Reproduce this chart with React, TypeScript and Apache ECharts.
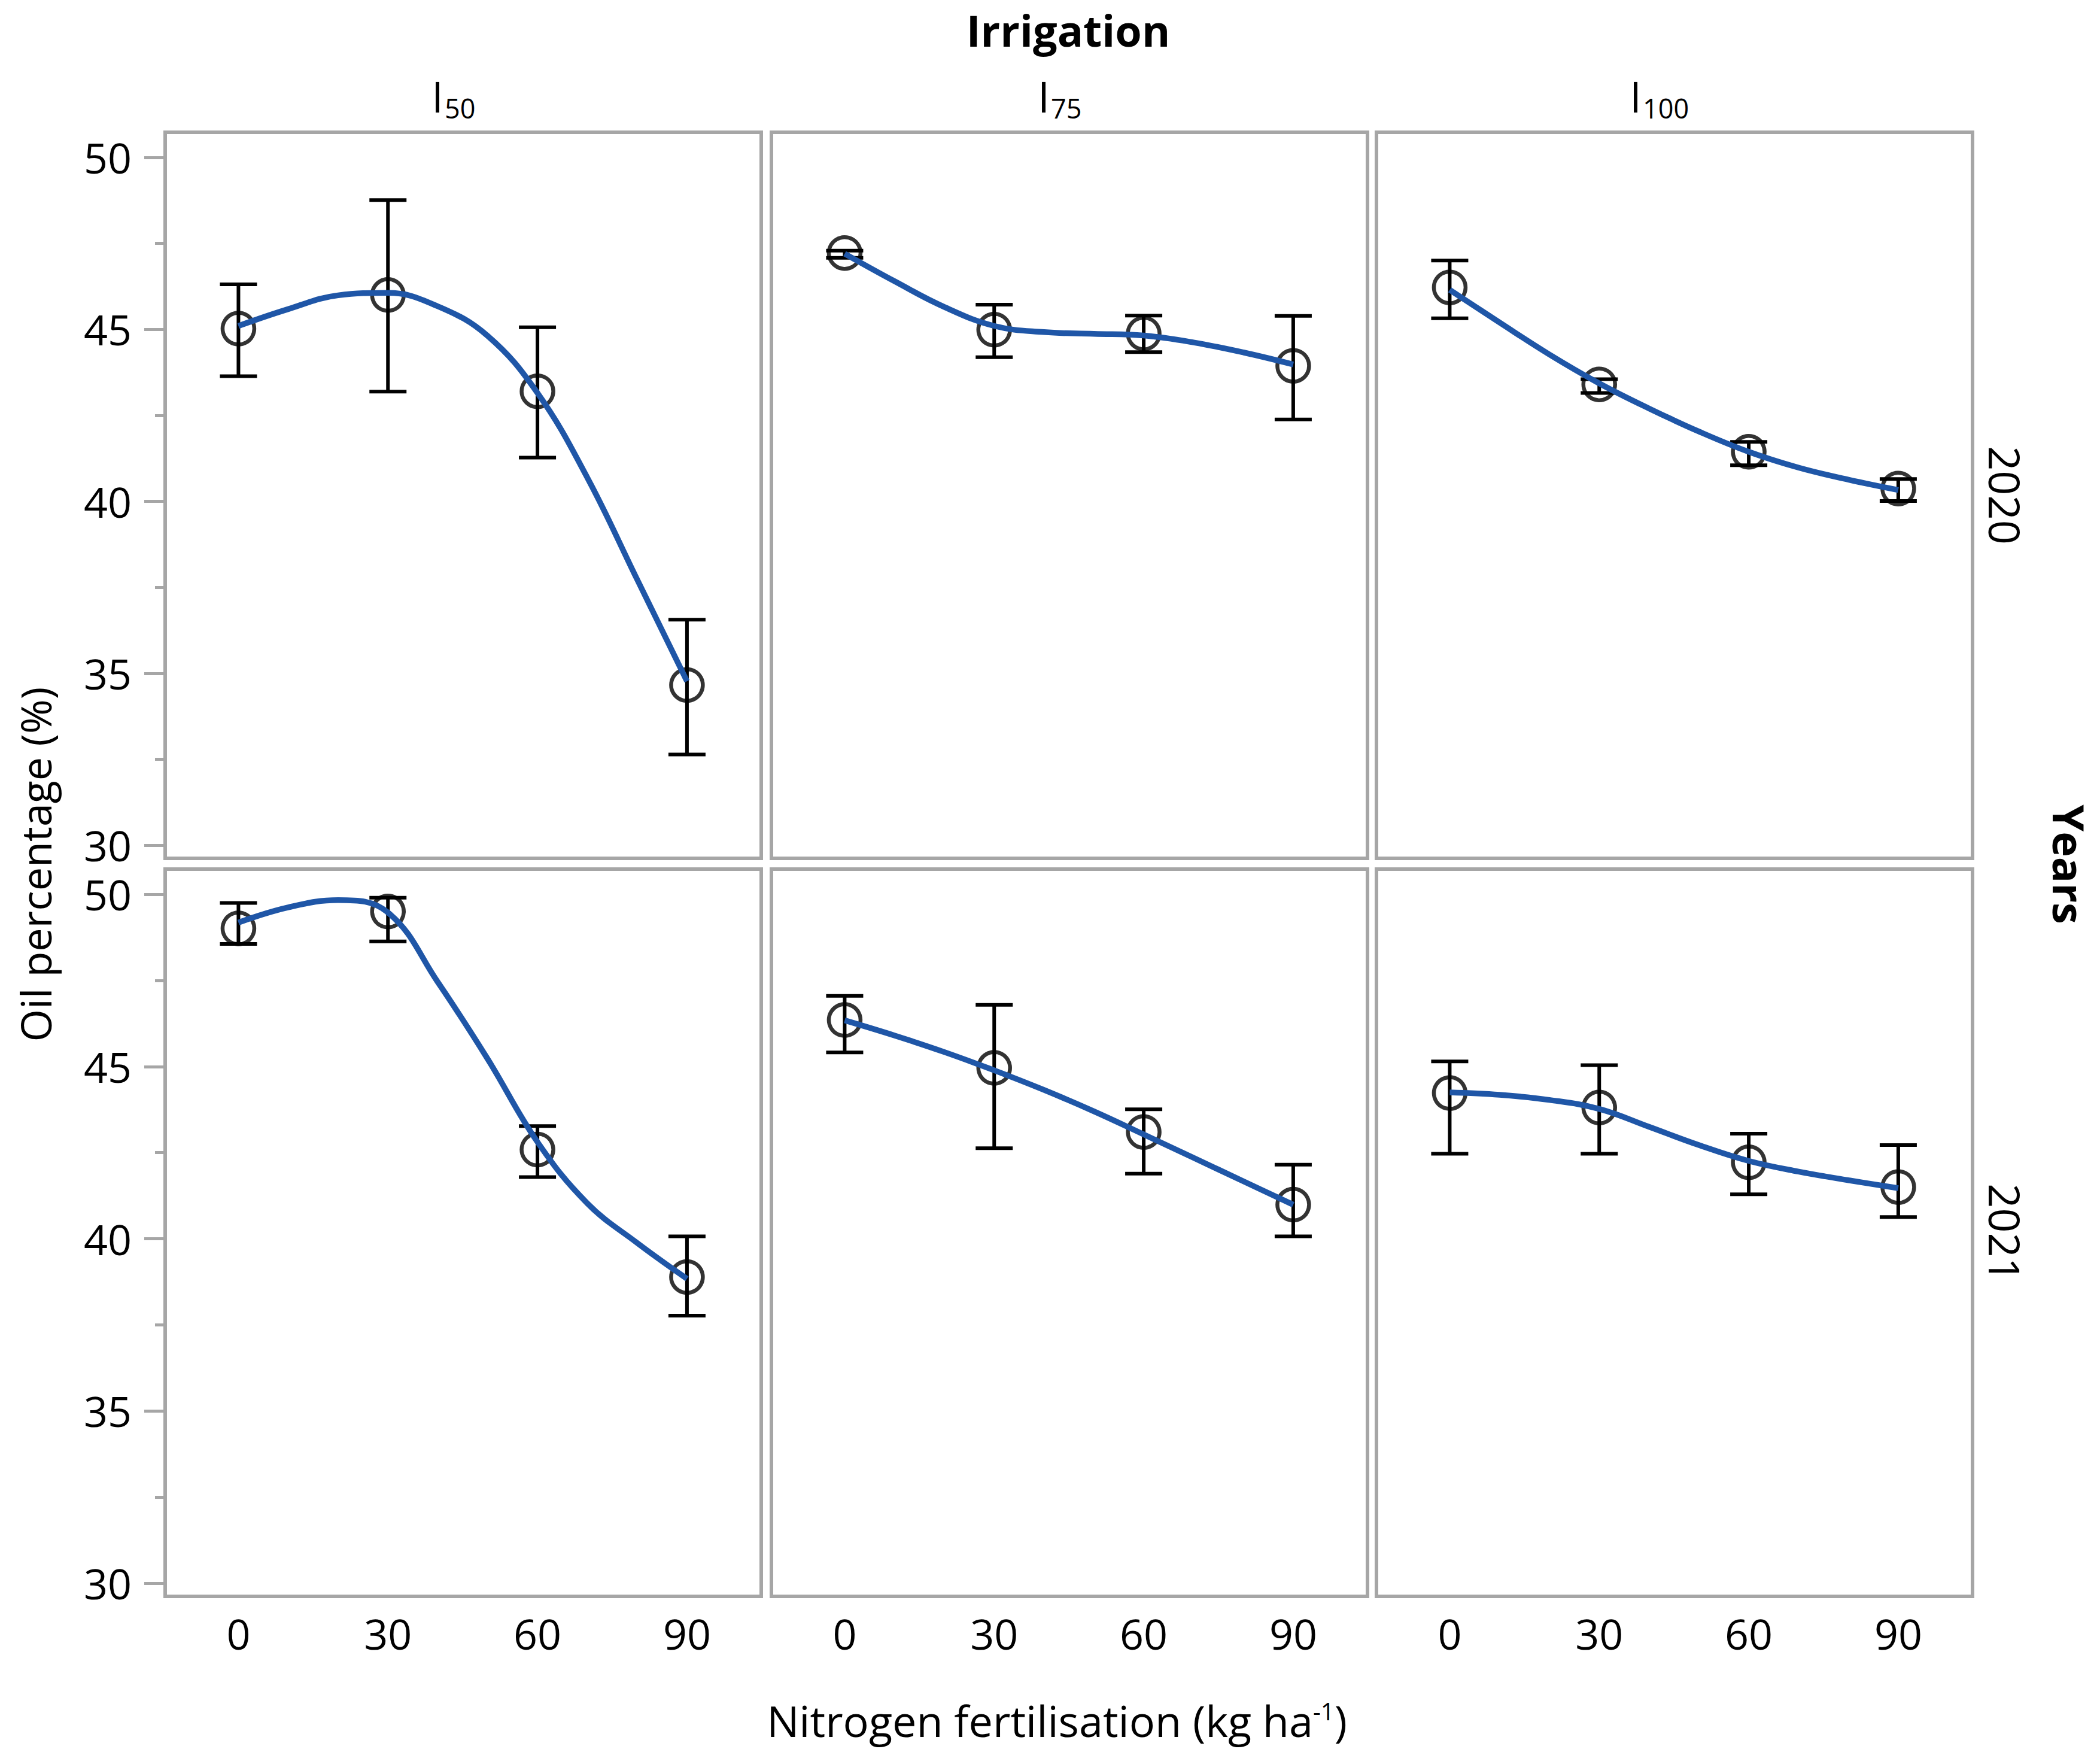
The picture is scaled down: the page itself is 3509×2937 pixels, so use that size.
import React, { useEffect, useRef } from "react";
import * as echarts from "echarts";

// ---------- data ----------
const nitrogen = [0, 30, 60, 90];
const nitrogenTickLabels = [0, 30, 60, 90];
const irrigationLabels = ["50", "75", "100"];
const yearLabels = ["2020", "2021"];
const yTickValues = [30, 35, 40, 45, 50];
const yMinorTickValues = [32.5, 37.5, 42.5, 47.5];
const curveX = [0, 10, 20, 30, 40, 50, 60, 70, 80, 90];

// 2020
const mean2020I50 = [45.02, 46.0, 43.2, 34.66];
const low2020I50 = [43.64, 43.19, 41.27, 32.64];
const high2020I50 = [46.31, 48.76, 45.06, 36.56];
const fit2020I50 = [45.1, 45.59, 45.99, 46.06, 45.67, 44.81, 43.15, 40.69, 37.73, 34.77];

const mean2020I75 = [47.22, 44.99, 44.88, 43.94];
const low2020I75 = [47.08, 44.19, 44.34, 42.38];
const high2020I75 = [47.29, 45.72, 45.4, 45.39];
const fit2020I75 = [47.2, 46.4, 45.65, 45.1, 44.92, 44.87, 44.82, 44.62, 44.33, 43.98];

const mean2020I100 = [46.22, 43.4, 41.44, 40.37];
const low2020I100 = [45.32, 43.15, 41.05, 40.01];
const high2020I100 = [47.0, 43.55, 41.73, 40.65];
const fit2020I100 = [46.15, 45.2, 44.27, 43.43, 42.7, 42.03, 41.44, 40.98, 40.63, 40.33];

// 2021
const mean2021I50 = [49.01, 49.5, 42.59, 38.89];
const low2021I50 = [48.56, 48.63, 41.79, 37.77];
const high2021I50 = [49.75, 49.9, 43.27, 40.07];
const fit2021I50 = [49.18, 49.62, 49.83, 49.47, 47.45, 45.22, 42.81, 41.03, 39.88, 38.84];

const mean2021I75 = [46.35, 44.96, 43.1, 40.99];
const low2021I75 = [45.41, 42.63, 41.89, 40.07];
const high2021I75 = [47.05, 46.79, 43.76, 42.15];
const fit2021I75 = [46.34, 45.9, 45.42, 44.89, 44.32, 43.7, 43.03, 42.35, 41.67, 40.99];

const mean2021I100 = [44.23, 43.81, 42.22, 41.5];
const low2021I100 = [42.47, 42.47, 41.29, 40.63];
const high2021I100 = [45.15, 45.04, 43.05, 42.72];
const fit2021I100 = [44.25, 44.18, 44.03, 43.77, 43.25, 42.72, 42.26, 41.95, 41.7, 41.47];

const panels = [
  { mean: mean2020I50, low: low2020I50, high: high2020I50, fit: fit2020I50 },
  { mean: mean2020I75, low: low2020I75, high: high2020I75, fit: fit2020I75 },
  { mean: mean2020I100, low: low2020I100, high: high2020I100, fit: fit2020I100 },
  { mean: mean2021I50, low: low2021I50, high: high2021I50, fit: fit2021I50 },
  { mean: mean2021I75, low: low2021I75, high: high2021I75, fit: fit2021I75 },
  { mean: mean2021I100, low: low2021I100, high: high2021I100, fit: fit2021I100 },
];

// ---------- layout / style ----------
const FONT = '"Open Sans", "Noto Sans", sans-serif';
const GRAY = "#a6a6a6";
const BLUE = "#1f56a7";
const colLeft = [276, 1289, 2300];
const colWidth = 996;
const rowTop = [221, 1452];
const rowHeight = [1213, 1215];
const Y_MIN = 29.62;
const Y_MAX = 50.73;
const X_MIN = -14.7;
const X_MAX = 104.9;

function buildOption() {
  const grid: any[] = [];
  const xAxis: any[] = [];
  const yAxis: any[] = [];
  const series: any[] = [];
  const graphic: any[] = [];

  for (let r = 0; r < 2; r++) {
    for (let c = 0; c < 3; c++) {
      const i = r * 3 + c;
      grid.push({
        left: colLeft[c],
        top: rowTop[r],
        width: colWidth,
        height: rowHeight[r],
        show: true,
        borderColor: GRAY,
        borderWidth: 6,
        backgroundColor: "transparent",
        containLabel: false,
        outerBoundsMode: "none",
      });
      xAxis.push({
        type: "value",
        gridIndex: i,
        min: X_MIN,
        max: X_MAX,
        position: "bottom",
        axisLine: { show: false, onZero: false },
        axisTick: { show: false },
        splitLine: { show: false },
        axisLabel:
          r === 1
            ? {
                show: true,
                customValues: nitrogenTickLabels,
                fontSize: 70,
                fontFamily: FONT,
                color: "#000",
                margin: 27,
              }
            : { show: false },
      });
      yAxis.push({
        type: "value",
        gridIndex: i,
        min: Y_MIN,
        max: Y_MAX,
        position: "left",
        axisLine: { show: false, onZero: false },
        splitLine: { show: false },
        axisTick:
          c === 0
            ? {
                show: true,
                inside: false,
                customValues: yTickValues,
                length: 35,
                lineStyle: { color: GRAY, width: 5 },
              }
            : { show: false },
        axisLabel:
          c === 0
            ? {
                show: true,
                customValues: yTickValues,
                fontSize: 70,
                fontFamily: FONT,
                color: "#000",
                margin: 56,
              }
            : { show: false },
      });

      const p = panels[i];
      series.push({
        type: "custom",
        xAxisIndex: i,
        yAxisIndex: i,
        z: 2,
        data: nitrogen.map((x, k) => [x, p.low[k], p.high[k]]),
        encode: { x: 0, y: [1, 2] },
        renderItem: (params: any, api: any) => {
          const x = api.value(0);
          const lo = api.coord([x, api.value(1)]);
          const hi = api.coord([x, api.value(2)]);
          const hw = 31;
          const st = { stroke: "#000", lineWidth: 6 };
          return {
            type: "group",
            children: [
              { type: "line", shape: { x1: lo[0], y1: lo[1], x2: hi[0], y2: hi[1] }, style: st },
              { type: "line", shape: { x1: lo[0] - hw, y1: lo[1], x2: lo[0] + hw, y2: lo[1] }, style: st },
              { type: "line", shape: { x1: hi[0] - hw, y1: hi[1], x2: hi[0] + hw, y2: hi[1] }, style: st },
            ],
          };
        },
      });
      series.push({
        type: "scatter",
        xAxisIndex: i,
        yAxisIndex: i,
        z: 3,
        symbol: "circle",
        symbolSize: 53,
        itemStyle: { color: "rgba(255,255,255,0)", borderColor: "#000", borderWidth: 6.5 },
        data: nitrogen.map((x, k) => [x, p.mean[k]]),
      });
      series.push({
        type: "line",
        xAxisIndex: i,
        yAxisIndex: i,
        z: 4,
        smooth: 0.4,
        showSymbol: false,
        symbol: "none",
        lineStyle: { color: BLUE, width: 9.5 },
        data: curveX.map((x, k) => [x, p.fit[k]]),
      });
    }
  }

  // minor tick axes for left column
  [0, 3].forEach((gi) => {
    yAxis.push({
      type: "value",
      gridIndex: gi,
      min: Y_MIN,
      max: Y_MAX,
      position: "left",
      axisLine: { show: false, onZero: false },
      splitLine: { show: false },
      axisLabel: { show: false },
      axisTick: {
        show: true,
        inside: false,
        customValues: yMinorTickValues,
        length: 17,
        lineStyle: { color: GRAY, width: 5 },
      },
    });
  });

  // strip labels (columns)
  for (let c = 0; c < 3; c++) {
    const cx = colLeft[c] + colWidth / 2;
    const sub = irrigationLabels[c];
    const inkLeft = cx - 3 - 22 * sub.length;
    const x0 = inkLeft - 6;
    graphic.push({
      type: "text",
      x: x0,
      y: 160,
      style: { text: "I", font: `72px ${FONT}`, fill: "#000", textAlign: "left", textVerticalAlign: "middle" },
    });
    graphic.push({
      type: "text",
      x: x0 + 22,
      y: 180,
      style: { text: sub, font: `45px ${FONT}`, fill: "#000", textAlign: "left", textVerticalAlign: "middle" },
    });
  }

  // strip labels (rows)
  for (let r = 0; r < 2; r++) {
    graphic.push({
      type: "text",
      x: 3351,
      y: rowTop[r] + rowHeight[r] / 2,
      rotation: -Math.PI / 2,
      style: { text: yearLabels[r], font: `72px ${FONT}`, fill: "#000", textAlign: "center", textVerticalAlign: "middle" },
    });
  }

  graphic.push({
    type: "text",
    x: 1785,
    y: 50,
    style: { text: "Irrigation", font: `bold 72px ${FONT}`, fill: "#000", textAlign: "center", textVerticalAlign: "middle" },
  });
  graphic.push({
    type: "text",
    x: 3458,
    y: 1444,
    rotation: -Math.PI / 2,
    style: { text: "Years", font: `bold 72px ${FONT}`, fill: "#000", textAlign: "center", textVerticalAlign: "middle" },
  });
  graphic.push({
    type: "text",
    x: 59,
    y: 1444,
    rotation: Math.PI / 2,
    style: { text: "Oil percentage (%)", font: `70px ${FONT}`, fill: "#000", textAlign: "center", textVerticalAlign: "middle" },
  });
  graphic.push({
    type: "text",
    x: 1766,
    y: 2874,
    style: {
      text: "{m|Nitrogen fertilisation (kg ha}{s|-1}{m|)}",
      textAlign: "center",
      textVerticalAlign: "middle",
      rich: {
        m: { fontSize: 72, fontFamily: FONT, fill: "#000", color: "#000" },
        s: { fontSize: 40, fontFamily: FONT, fill: "#000", color: "#000", verticalAlign: "top" },
      },
    },
  });

  return {
    animation: false,
    backgroundColor: "#ffffff",
    grid,
    xAxis,
    yAxis,
    series,
    graphic,
  };
}

export default function App() {
  const ref = useRef<HTMLDivElement>(null);
  useEffect(() => {
    document.body.style.margin = "0";
    if (!ref.current) return;
    const chart = echarts.init(ref.current, undefined, { renderer: "svg" });
    chart.setOption(buildOption() as any);
    return () => chart.dispose();
  }, []);
  return (
    <div
      ref={ref}
      style={{ position: "fixed", left: 0, top: 0, width: 3509, height: 2937, background: "#fff" }}
    />
  );
}
